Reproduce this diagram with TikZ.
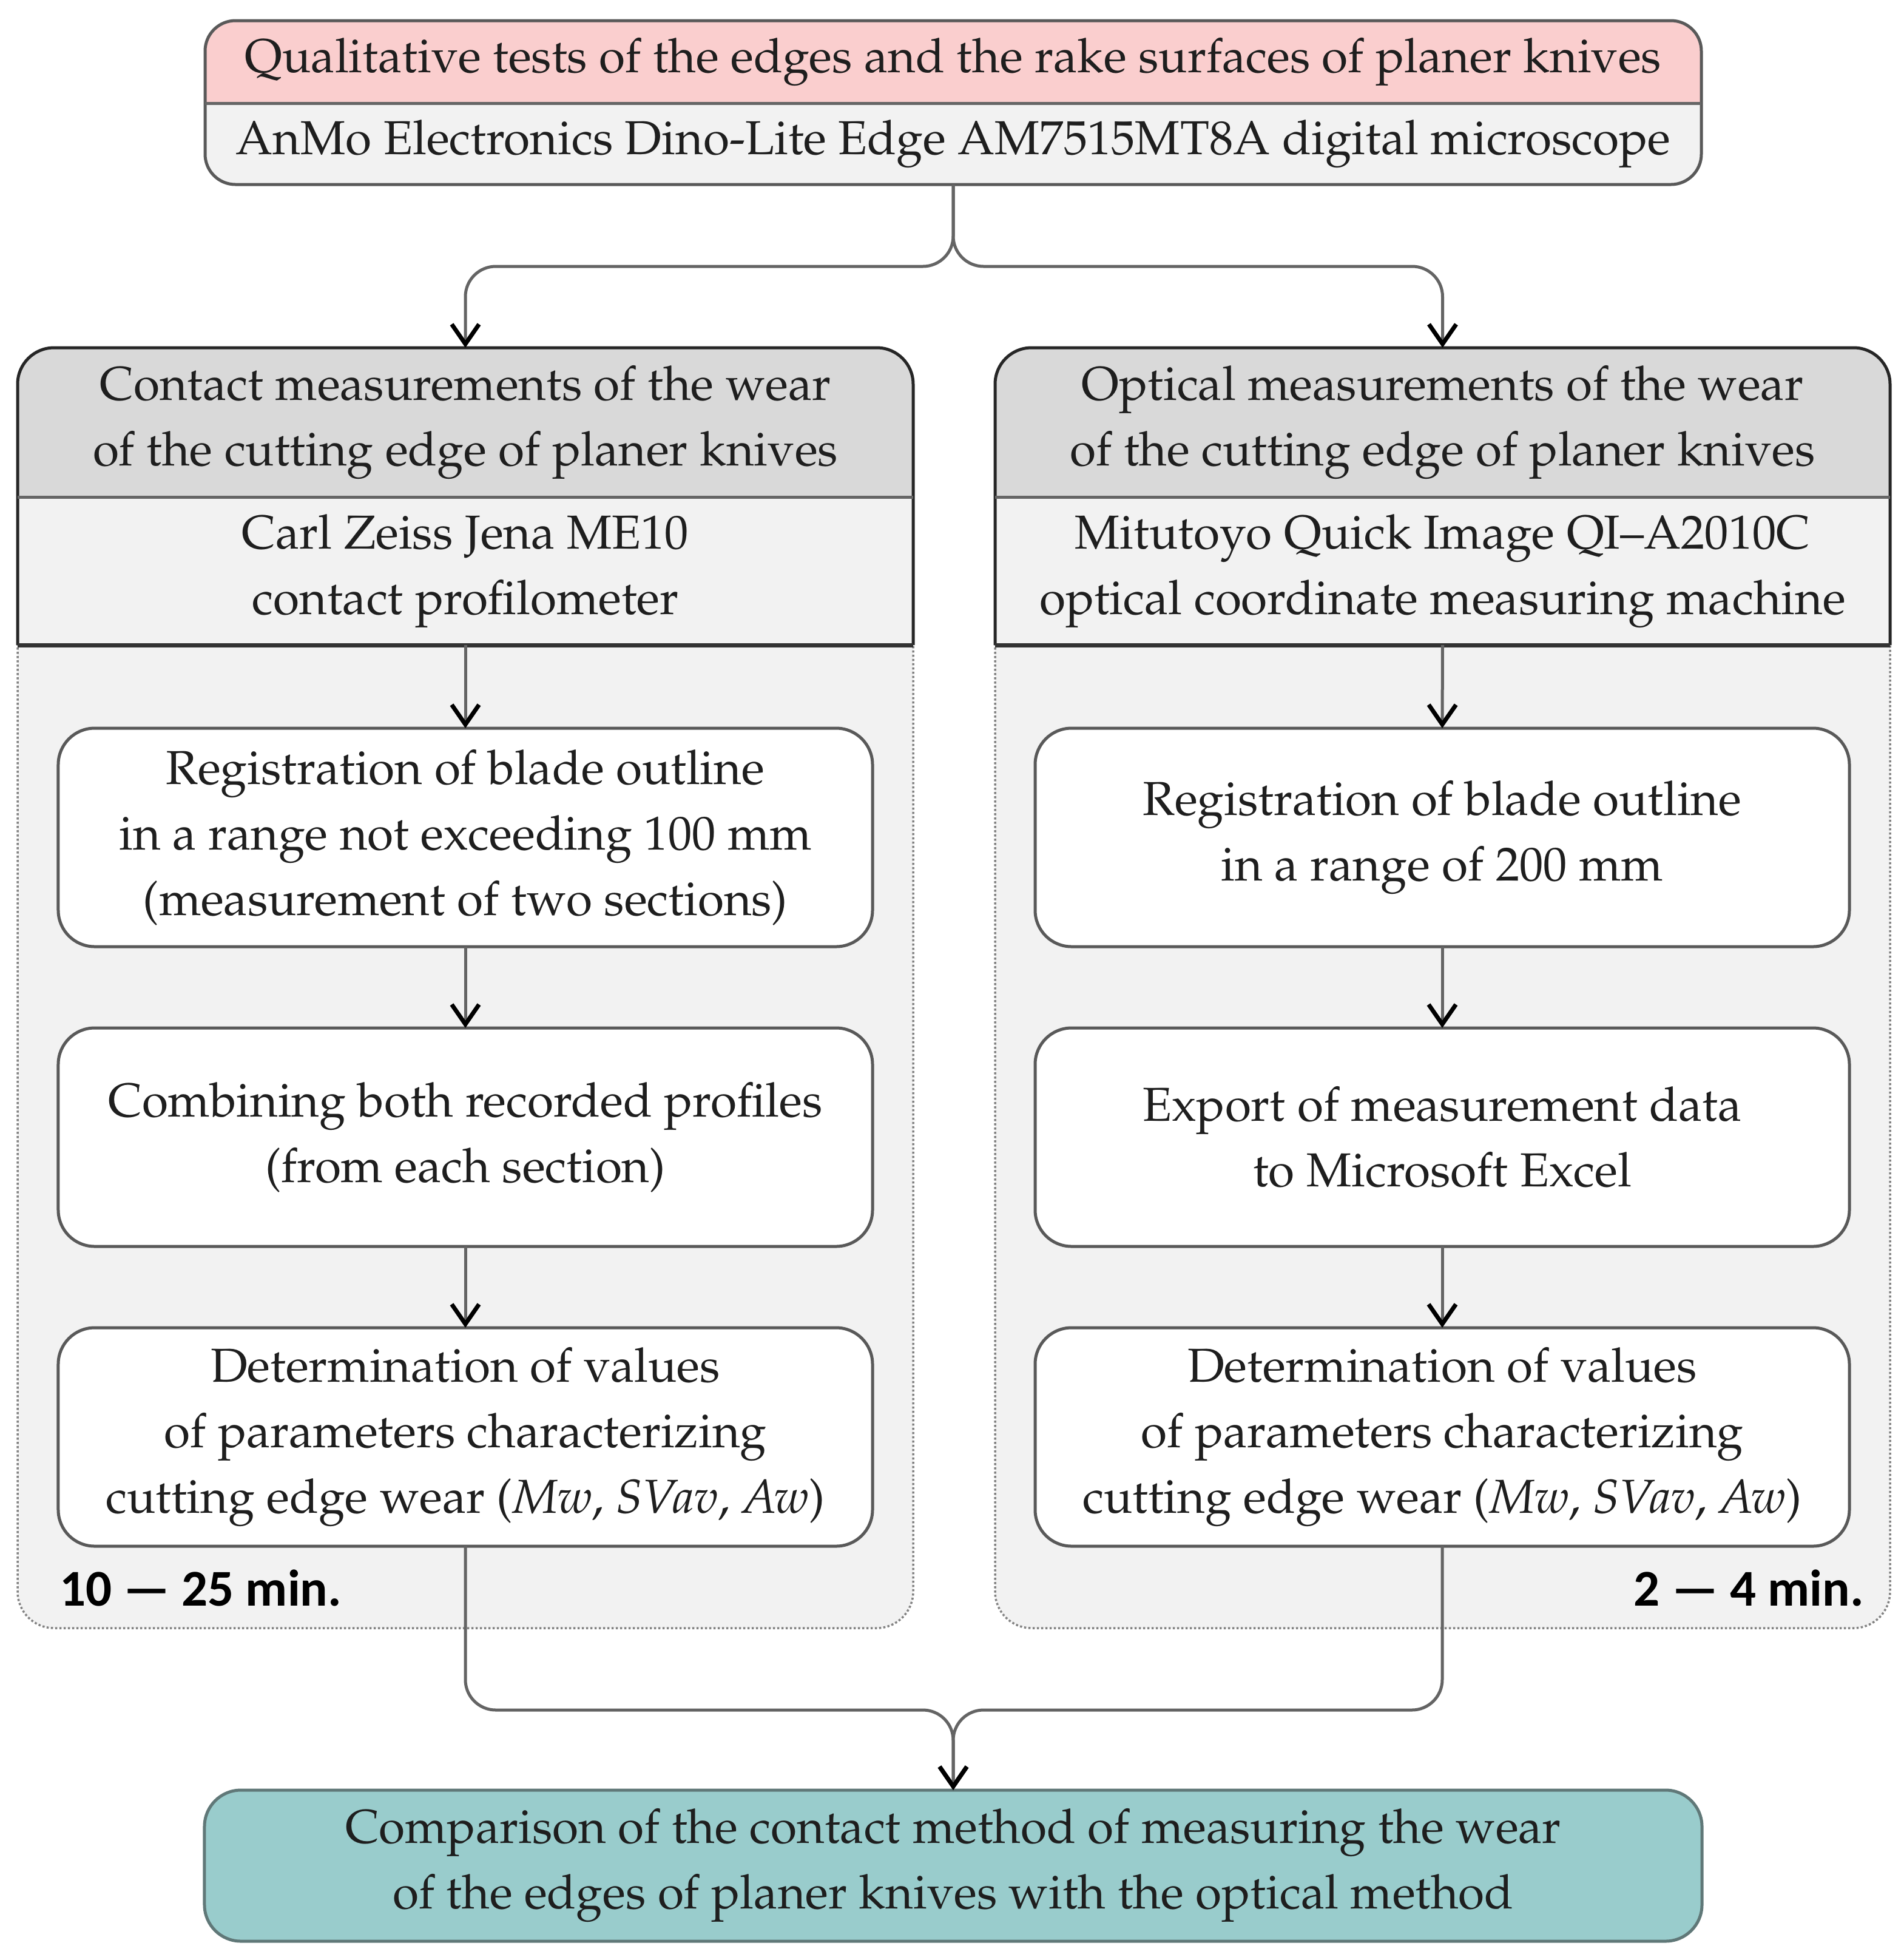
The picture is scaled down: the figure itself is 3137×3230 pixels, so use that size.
\documentclass[tikz,border=0pt]{standalone}
\usepackage{fontspec}
\newfontfamily\calib{Carlito}
\usepackage[T1,TU]{fontenc}
\usetikzlibrary{arrows.meta}
\IfFileExists{t1ppl.fd}
  {\newcommand\pal{\fontencoding{T1}\fontfamily{ppl}\selectfont}\newcommand\txtsize{15.7}\newcommand\mydash{--}}
  {\newcommand\pal{\rmfamily}\newcommand\txtsize{17}\newcommand\mydash{–}}
\definecolor{pinkc}{RGB}{250,206,206}
\definecolor{lightc}{RGB}{242,242,242}
\definecolor{hgray}{RGB}{217,217,217}
\definecolor{tealc}{RGB}{153,204,204}
\definecolor{tealb}{RGB}{96,120,120}
\definecolor{stepgray}{RGB}{89,89,89}
\definecolor{conngray}{RGB}{100,100,100}
\definecolor{dotgray}{RGB}{130,130,130}
\definecolor{txtc}{RGB}{30,30,30}
\tikzset{
  txt/.style={font={\pal\fontsize{\txtsize}{21.6}\selectfont}, align=center, text=txtc},
  region/.style={txt, inner sep=0pt, outer sep=0pt, draw=none},
  stepbox/.style={txt, draw=stepgray, line width=1pt, fill=white, rounded corners=12pt,
     minimum width=268.4pt, minimum height=72pt, inner sep=0pt, outer sep=0pt},
  cmpbox/.style={txt, draw=tealb, line width=1pt, fill=tealc, rounded corners=12pt,
     minimum width=493.6pt, minimum height=49.8pt, inner sep=0pt, outer sep=0pt},
  conn/.style={draw=conngray, line width=1pt},
  arr/.style={conn, -{Straight Barb[length=6.5pt,width=9pt,line width=1.4pt,color=black]}},
  timel/.style={font={\calib\bfseries\fontsize{17}{20}\selectfont}, text=black, inner sep=0pt},
  contbox/.style={fill=lightc, draw=dotgray, line width=0.7pt, dash pattern=on 0.7pt off 0.7pt, rounded corners=12pt},
  hdrline/.style={draw=black!85, line width=1pt},
  divline/.style={draw=black!60, line width=1pt}
}
\begin{document}
\begin{tikzpicture}[x=0.2pt,y=-0.2pt]
\useasboundingbox (0,0) rectangle (3137,3230);

% ---------- top box ----------
\begin{scope}
  \clip (0,0) rectangle (3137,170);
  \fill[pinkc, rounded corners=10pt] (338,34) rectangle (2804,304);
\end{scope}
\begin{scope}
  \clip (0,170) rectangle (3137,320);
  \fill[lightc, rounded corners=10pt] (338,34) rectangle (2804,304);
\end{scope}
\draw[stepgray, line width=1pt, rounded corners=10pt] (338,34) rectangle (2804,304);
\draw[divline] (338,170) -- (2804,170);
\node[region, minimum width=493.2pt, minimum height=27.2pt] (topA) at (1571,102)
  {Qualitative tests of the edges and the rake surfaces of planer knives};
\node[region, minimum width=493.2pt, minimum height=26.8pt] (topB) at (1571,237)
  {AnMo Electronics Dino-Lite Edge AM7515MT8A digital microscope};

% ---------- containers ----------
\draw[contbox] (29,573) rectangle (1505,2683);
\draw[contbox] (1640,573) rectangle (3115,2683);

% ---------- headers ----------
\begin{scope}
  \clip (0,573) rectangle (3137,819);
  \fill[hgray, rounded corners=12pt] (29,573) rectangle (1505,1100);
  \fill[hgray, rounded corners=12pt] (1640,573) rectangle (3115,1100);
\end{scope}
\fill[lightc] (29,819) rectangle (1505,1063);
\fill[lightc] (1640,819) rectangle (3115,1063);
\draw[hdrline, rounded corners=12pt] (29,1063) -- (29,573) -- (1505,573) -- (1505,1063);
\draw[hdrline, rounded corners=12pt] (1640,1063) -- (1640,573) -- (3115,573) -- (3115,1063);
\draw[divline] (29,819) -- (1505,819);
\draw[divline] (1640,819) -- (3115,819);
\draw[draw=black!80, line width=1.4pt] (29,1063) -- (1505,1063);
\draw[draw=black!80, line width=1.4pt] (1640,1063) -- (3115,1063);

\node[region, minimum width=295.2pt, minimum height=49.2pt] (hdrL) at (767,696)
  {Contact measurements of the wear\\of the cutting edge of planer knives};
\node[region, minimum width=295.2pt, minimum height=48.8pt] (devL) at (767,941)
  {Carl Zeiss Jena ME10\\contact profilometer};
\node[region, minimum width=295pt, minimum height=49.2pt] (hdrR) at (2377.5,696)
  {Optical measurements of the wear\\of the cutting edge of planer knives};
\node[region, minimum width=295pt, minimum height=48.8pt] (devR) at (2377.5,941)
  {Mitutoyo Quick Image QI\mydash A2010C\\optical coordinate measuring machine};

% ---------- steps ----------
\node[stepbox] (s1L) at (767,1380)
  {Registration of blade outline\\in a range not exceeding 100 mm\\(measurement of two sections)};
\node[stepbox] (s2L) at (767,1874)
  {Combining both recorded profiles\\(from each section)};
\node[stepbox] (s3L) at (767,2368)
  {Determination of values\\of parameters characterizing\\cutting edge wear (\textit{Mw}, \textit{SVav}, \textit{Aw})};
\node[stepbox] (s1R) at (2377,1380)
  {Registration of blade outline\\in a range of 200 mm};
\node[stepbox] (s2R) at (2377,1874)
  {Export of measurement data\\to Microsoft Excel};
\node[stepbox] (s3R) at (2377,2368)
  {Determination of values\\of parameters characterizing\\cutting edge wear (\textit{Mw}, \textit{SVav}, \textit{Aw})};

\node[timel, anchor=base west] (tL) at (97,2646) {10 — 25 min.};
\node[timel, anchor=base east] (tR) at (3073,2646) {2 — 4 min.};

% ---------- bottom ----------
\node[cmpbox] (cmp) at (1571,3074.5)
  {Comparison of the contact method of measuring the wear\\of the edges of planer knives with the optical method};

% ---------- connectors ----------
\coordinate (jt) at (1571,439);
\draw[arr, rounded corners=10pt] (topB.south) -- (jt) -| (hdrL.north);
\draw[arr, rounded corners=10pt] (topB.south) -- (jt) -| (hdrR.north);
\draw[arr] (devL.south) -- (s1L.north);
\draw[arr] (s1L.south) -- (s2L.north);
\draw[arr] (s2L.south) -- (s3L.north);
\draw[arr] (devR.south) -- (s1R.north);
\draw[arr] (s1R.south) -- (s2R.north);
\draw[arr] (s2R.south) -- (s3R.north);
\coordinate (jb) at (1571,2818);
\draw[arr, rounded corners=10pt] (s3L.south) |- (jb) -- (cmp.north);
\draw[arr, rounded corners=10pt] (s3R.south) |- (jb) -- (cmp.north);
\end{tikzpicture}
\end{document}
